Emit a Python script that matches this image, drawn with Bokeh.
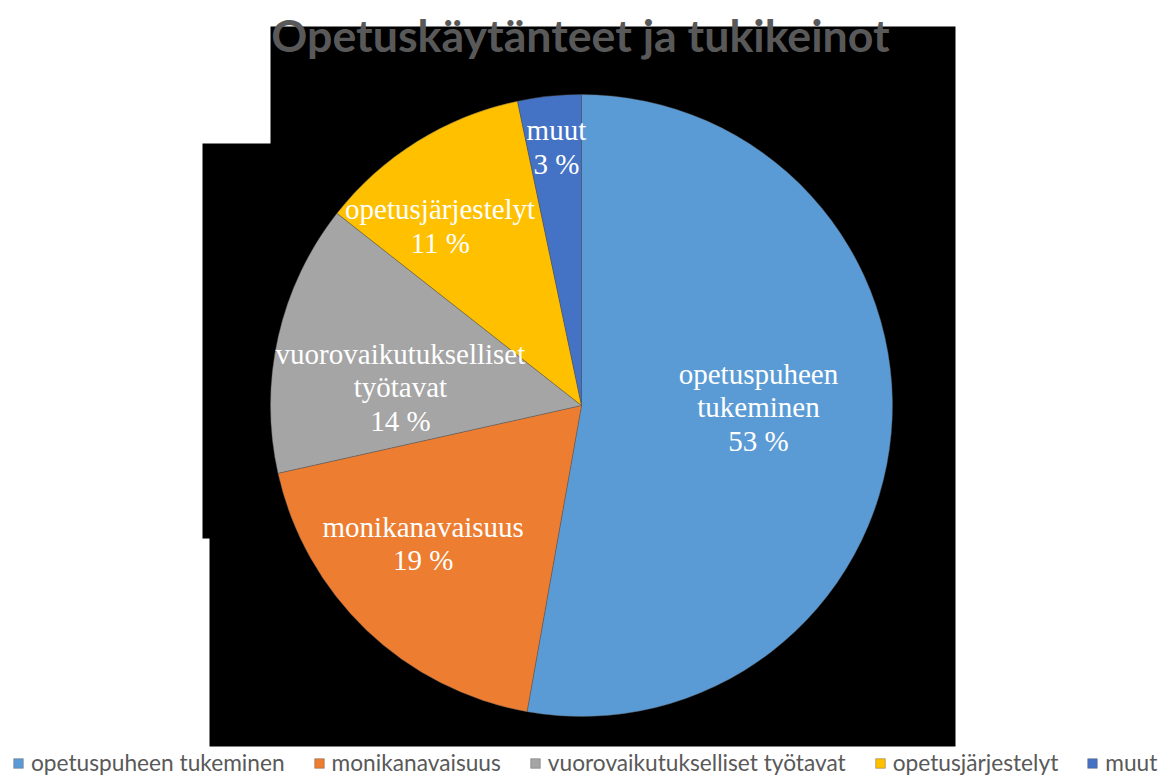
import numpy as np
from bokeh.plotting import figure
from bokeh.models import Range1d, Legend, LegendItem, ColumnDataSource, Label
from bokeh.core.properties import value
from bokeh.embed import file_html
from bokeh.resources import INLINE

# ---- data -------------------------------------------------------------
title_text = "Opetuskäytänteet ja tukikeinot"
categories = ["opetuspuheen tukeminen", "monikanavaisuus",
              "vuorovaikutukselliset työtavat", "opetusjärjestelyt", "muut"]
shares = [52.8, 18.7, 14.1, 11.1, 3.3]
label_names = ["opetuspuheen\ntukeminen", "monikanavaisuus",
               "vuorovaikutukselliset\ntyötavat", "opetusjärjestelyt", "muut"]
colors = ["#5B9BD5", "#ED7D31", "#A5A5A5", "#FFC000", "#4472C4"]

# ---- layout / style ---------------------------------------------------
W, H = 1161, 778
CX, CY, R = 581, 373, 311           # pie centre and radius (px units)
label_radius = [0.569, 0.675, 0.585, 0.734, 0.835]   # fraction of R
label_turn = [-4.4, 5.2, -7.1, -6.4, 0.4]            # degrees, clockwise nudge

p = figure(width=W, height=H, x_range=Range1d(0, W), y_range=Range1d(0, H),
           output_backend="svg", toolbar_location=None, min_border=0,
           background_fill_color="white", border_fill_color="white")
p.axis.visible = False
p.grid.visible = False
p.outline_line_color = None

# dark backdrop that the reference picture shows behind the pie
bg_x = [270, 955, 955, 209, 209, 202, 202, 270]
bg_y = [752, 752, 32, 32, 240, 240, 635, 635]
p.patch(bg_x, bg_y, fill_color="black", line_color=None)

vals = np.array(shares, dtype=float)
cum = np.concatenate([[0.0], np.cumsum(vals)]) / vals.sum()
start = np.pi / 2 - 2 * np.pi * cum[:-1]
end = np.pi / 2 - 2 * np.pi * cum[1:]
mid = np.pi / 2 - 2 * np.pi * (cum[:-1] + cum[1:]) / 2 - np.radians(label_turn)

src = ColumnDataSource(dict(cat=categories, start=start, end=end, color=colors))
wr = p.wedge(x=CX, y=CY, radius=R, start_angle="start", end_angle="end",
             direction="clock", fill_color="color", line_color="#5a5a5a",
             line_width=0.6, line_alpha=0.7, source=src)

lr = np.array(label_radius) * R
lab_src = ColumnDataSource(dict(
    x=CX + lr * np.cos(mid), y=CY + lr * np.sin(mid),
    t=[f"{n}\n{round(v)} %" for n, v in zip(label_names, shares)]))
p.text(x="x", y="y", text="t", source=lab_src, text_color="white",
       text_font=value("Liberation Serif"), text_font_size="29px",
       text_align="center", text_baseline="middle", text_line_height=1.05)

p.add_layout(Label(x=580, y=H - 34, text=title_text, text_align="center",
                   text_baseline="alphabetic", text_font="Lato",
                   text_font_style="bold", text_font_size="44.7px",
                   text_color="#595959"))

items = [LegendItem(label=c, renderers=[wr], index=i) for i, c in enumerate(categories)]
legend = Legend(items=items, orientation="horizontal", location=(12, 2),
                label_text_font="Lato", label_text_font_size="22.7px",
                label_text_color="#595959", glyph_width=12, glyph_height=12,
                label_standoff=7, spacing=28, padding=0, margin=0,
                label_height=22, border_line_color=None,
                background_fill_alpha=0)
p.add_layout(legend, "center")

open("out.html", "w").write(file_html(p, INLINE))
